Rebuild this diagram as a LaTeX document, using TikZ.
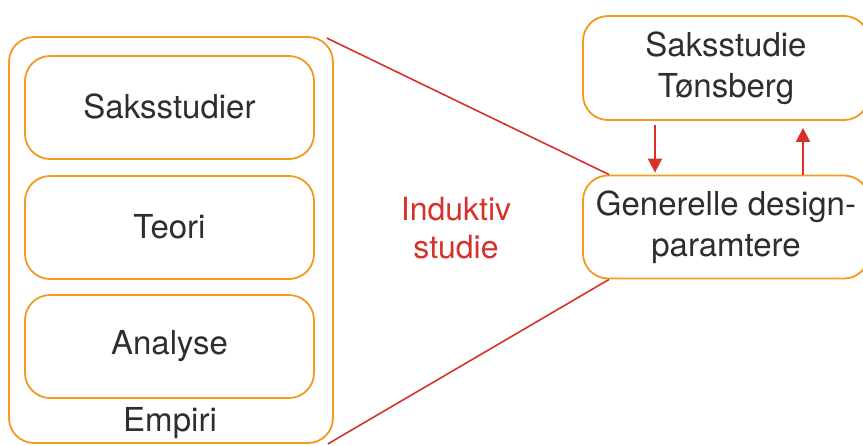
\documentclass[tikz,border=0pt]{standalone}
\usepackage{fontspec}
\setmainfont{TeX Gyre Heros}
\usetikzlibrary{calc,arrows.meta}
\definecolor{orng}{HTML}{F39A1E}
\definecolor{rd}{HTML}{D7312A}
\definecolor{txt}{HTML}{2E2E2E}
\begin{document}
\begin{tikzpicture}[x=1pt,y=-1pt,
  box/.style={draw=orng,line width=1.8pt,rounded corners=25pt,inner sep=0pt,
    text=txt,align=center,font=\fontsize{33}{41}\selectfont},
  link/.style={draw=rd,line width=1.6pt},
  arr/.style={draw=rd,line width=1.8pt,-{Triangle[length=14pt,width=14pt]}}]
\useasboundingbox (0,0) rectangle (863,445);
\node[box,minimum width=324pt,minimum height=406pt] (outer) at (171,240) {};
\node[box,minimum width=286pt,minimum height=104pt] (sak) at (726,68) {Saksstudie\\Tønsberg};
\node[box,minimum width=286pt,minimum height=103pt] (gen) at (726,227) {Generelle design-\\paramtere};
\node[box,minimum width=289pt,minimum height=103pt] (s1) at (169.5,107.5) {\raisebox{3pt}{Saksstudier}};
\node[box,minimum width=289pt,minimum height=103pt] (s2) at (169.5,227.5) {\raisebox{3pt}{Teori}};
\node[box,minimum width=289pt,minimum height=103pt] (s3) at (169.5,346.5) {Analyse};
\node[text=txt,font=\fontsize{33}{41}\selectfont,inner sep=0pt] (emp) at (170,423) {Empiri};
\node[text=rd,align=center,font=\fontsize{32}{38}\selectfont,inner sep=0pt] (ind) at (456,228) {Induktiv\\studie};
\draw[link] ($(outer.north east)+(-7,2)$) -- ($(gen.north west)+(27,0)$);
\draw[link] ($(outer.south east)+(-6,0)$) -- ($(gen.south west)+(27,0)$);
\draw[arr] ($(sak.south)+(-71,4)$) -- ($(gen.north)+(-71,-2)$);
\draw[arr] ($(gen.north)+(77,0)$) -- ($(sak.south)+(77,7)$);
\end{tikzpicture}
\end{document}
